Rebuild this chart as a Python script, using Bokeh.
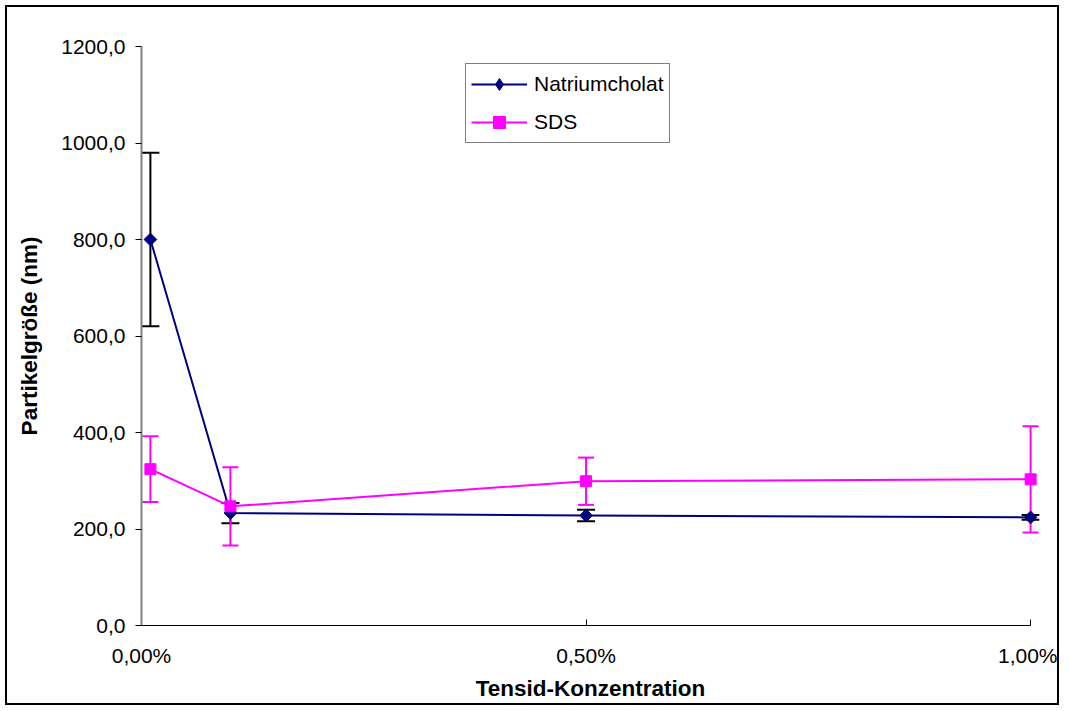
import math
from bokeh.plotting import figure
from bokeh.models import (Range1d, FixedTicker, ColumnDataSource, Whisker, TeeHead,
                          Legend, LegendItem)
from bokeh.embed import file_html
from bokeh.resources import INLINE

# ---- data ----
x_vals = [0.01, 0.1, 0.5, 1.0]
natrium = [800.0, 233.0, 228.0, 224.0]
natrium_err = [180.0, 21.0, 12.0, 5.0]
sds = [324.0, 247.0, 299.0, 303.0]
sds_err = [68.0, 81.0, 49.0, 110.0]

x_ticks = [0.0, 0.5, 1.0]
x_tick_labels = ["0,00%", "0,50%", "1,00%"]
y_ticks = [0, 200, 400, 600, 800, 1000, 1200]
y_tick_labels = ["0,0", "200,0", "400,0", "600,0", "800,0", "1000,0", "1200,0"]

series_names = ["Natriumcholat", "SDS"]
x_title = "Tensid-Konzentration"
y_title = "Partikelgröße (nm)"

FONT = "Liberation Sans"

p = figure(width=1054, height=700, output_backend="svg", toolbar_location=None,
           x_range=Range1d(0, 1.01), y_range=Range1d(0, 1200),
           min_border_left=134, min_border_right=22, min_border_top=39,
           min_border_bottom=82)
p.styles = {"border": "2px solid black", "margin-left": "5px", "margin-top": "5px"}
p.grid.visible = False
p.outline_line_color = None
p.background_fill_color = "white"
p.border_fill_color = "white"

# axes
xa = p.xaxis[0]
xa.ticker = FixedTicker(ticks=x_ticks)
xa.major_label_overrides = {t: l for t, l in zip(x_ticks, x_tick_labels)}
xa.bounds = (0, 1.0)
xa.axis_line_color = "black"
xa.axis_line_width = 1
xa.major_tick_in = 6
xa.major_tick_out = 0
xa.minor_tick_line_color = None
xa.major_tick_line_color = "black"
xa.major_label_text_font = FONT
xa.major_label_text_font_size = "21px"
xa.major_label_text_color = "black"
xa.major_label_standoff = 18
xa.axis_label = x_title
xa.axis_label_text_font = FONT
xa.axis_label_text_font_style = "bold"
xa.axis_label_text_font_size = "22.5px"
xa.axis_label_text_color = "black"
xa.axis_label_standoff = 6

ya = p.yaxis[0]
ya.ticker = FixedTicker(ticks=y_ticks)
ya.major_label_overrides = {t: l for t, l in zip(y_ticks, y_tick_labels)}
ya.axis_line_color = "#808080"
ya.axis_line_width = 2
ya.major_tick_in = 0
ya.major_tick_out = 6
ya.minor_tick_line_color = None
ya.major_tick_line_color = "black"
ya.major_label_text_font = FONT
ya.major_label_text_font_size = "21px"
ya.major_label_text_color = "black"
ya.major_label_standoff = 10
ya.axis_label = y_title
ya.axis_label_text_font = FONT
ya.axis_label_text_font_style = "bold"
ya.axis_label_text_font_size = "22.5px"
ya.axis_label_text_color = "black"
ya.axis_label_standoff = 16

NAVY = "#000080"
MAG = "#FF00FF"

src_n = ColumnDataSource(dict(x=x_vals, y=natrium,
                              lo=[v - e for v, e in zip(natrium, natrium_err)],
                              hi=[v + e for v, e in zip(natrium, natrium_err)]))
src_s = ColumnDataSource(dict(x=x_vals, y=sds,
                              lo=[v - e for v, e in zip(sds, sds_err)],
                              hi=[v + e for v, e in zip(sds, sds_err)]))

# Natriumcholat
ln = p.line("x", "y", source=src_n, line_color=NAVY, line_width=2)
wn = Whisker(source=src_n, base="x", lower="lo", upper="hi", line_color="black", line_width=2,
             upper_head=TeeHead(size=18, line_color="black", line_width=2),
             lower_head=TeeHead(size=18, line_color="black", line_width=2))
p.add_layout(wn)
p.scatter("x", "y", source=src_n, marker="square", angle=math.pi / 4, size=9,
          fill_color=NAVY, line_color=NAVY)

# SDS
ls = p.line("x", "y", source=src_s, line_color=MAG, line_width=2)
ws = Whisker(source=src_s, base="x", lower="lo", upper="hi", line_color=MAG, line_width=2,
             upper_head=TeeHead(size=16, line_color=MAG, line_width=2),
             lower_head=TeeHead(size=16, line_color=MAG, line_width=2))
p.add_layout(ws)
ms = p.scatter("x", "y", source=src_s, marker="square", size=11,
               fill_color=MAG, line_color=MAG)

# legend proxy marker for Natriumcholat (point outside visible range)
proxy = ColumnDataSource(dict(x=[-1.0], y=[-1000.0]))
leg_n = p.scatter("x", "y", source=proxy, marker="diamond", size=12,
                  fill_color=NAVY, line_color=NAVY)

legend = Legend(items=[LegendItem(label=series_names[0], renderers=[ln, leg_n]),
                       LegendItem(label=series_names[1], renderers=[ls, ms])],
                location=(324, 482))
legend.glyph_width = 56
legend.glyph_height = 30
legend.label_height = 30
legend.padding = 5
legend.spacing = 8
legend.margin = 0
legend.label_standoff = 7
legend.label_text_font = FONT
legend.label_text_font_size = "21px"
legend.label_text_color = "black"
legend.border_line_color = "black"
legend.border_line_width = 1
legend.background_fill_color = "white"
legend.background_fill_alpha = 1.0
p.add_layout(legend)

open("out.html", "w").write(file_html(p, INLINE))
